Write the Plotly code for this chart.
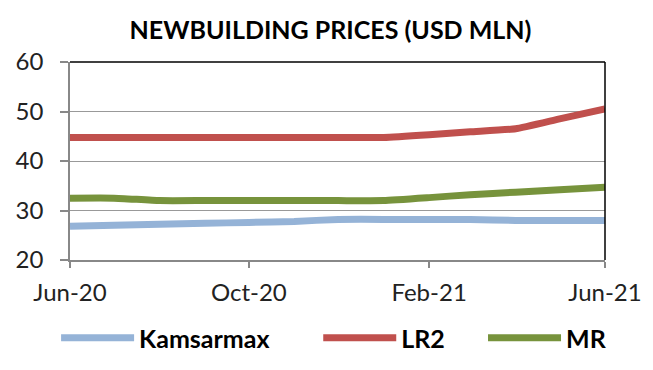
import plotly.graph_objects as go

months = ["2020-06-01", "2020-07-01", "2020-08-01", "2020-09-01", "2020-10-01", "2020-11-01",
          "2020-12-01", "2021-01-01", "2021-02-01", "2021-03-01", "2021-04-01", "2021-05-01",
          "2021-06-01"]
kamsarmax = [26.8, 27.0, 27.2, 27.4, 27.6, 27.8, 28.2, 28.2, 28.2, 28.2, 28.0, 28.0, 28.0]
lr2 = [44.75, 44.75, 44.75, 44.75, 44.75, 44.75, 44.75, 44.75, 45.3, 45.9, 46.5, 48.5, 50.5]
mr = [32.5, 32.5, 32.0, 32.0, 32.0, 32.0, 32.0, 32.0, 32.6, 33.2, 33.7, 34.2, 34.7]
tick_vals = ["2020-06-01", "2020-10-01", "2021-02-01", "2021-06-01"]
tick_text = ["Jun-20", "Oct-20", "Feb-21", "Jun-21"]

series = [("Kamsarmax", kamsarmax, "#95B3D7"), ("LR2", lr2, "#C0504D"), ("MR", mr, "#77933C")]
legend_ids = ["legend", "legend2", "legend3"]
legend_x = [-0.026, 0.464, 0.772]

font_family = "Lato, Open Sans, sans-serif"
fig = go.Figure()
for (name, vals, col), lid in zip(series, legend_ids):
    fig.add_trace(go.Scatter(x=months, y=vals, name=name, mode="lines", legend=lid,
                             line=dict(color=col, width=7, shape="spline", smoothing=0.4)))

legend_common = dict(orientation="h", xanchor="left", y=-0.394, yanchor="middle",
                     itemwidth=73, bgcolor="rgba(0,0,0,0)",
                     font=dict(size=25, color="black", family=font_family, weight="bold"))

fig.update_layout(
    width=645, height=362,
    margin=dict(l=62, r=48, t=54, b=110, autoexpand=False),
    paper_bgcolor="white", plot_bgcolor="white",
    title=dict(text="<b>NEWBUILDING PRICES (USD MLN)</b>", x=0.5, xanchor="center",
               y=1 - 22 / 362, yanchor="middle",
               font=dict(family=font_family, size=25, color="black")),
    font=dict(family=font_family, size=24, color="#222"),
    showlegend=True,
    legend=dict(x=legend_x[0], **legend_common),
    legend2=dict(x=legend_x[1], **legend_common),
    legend3=dict(x=legend_x[2], **legend_common),
)
fig.update_xaxes(type="date", range=[months[0], months[-1]], tickvals=tick_vals, ticktext=tick_text,
                 showgrid=False, showline=True, linecolor="#888", linewidth=1.5,
                 ticks="outside", ticklen=6, tickcolor="#888", tickwidth=1.5, zeroline=False,
                 ticklabelstandoff=4, automargin=False)
fig.update_yaxes(range=[20, 60], dtick=10, showgrid=True, gridcolor="#999", gridwidth=1.2,
                 showline=True, linecolor="#888", linewidth=1.5,
                 ticks="outside", ticklen=8, tickcolor="#888", tickwidth=1.5, zeroline=False,
                 ticklabelstandoff=12, automargin=False)
# black frame on top and right
fig.add_shape(type="line", xref="paper", yref="paper", x0=0, x1=1, y0=1, y1=1,
              line=dict(color="black", width=1.5))
fig.add_shape(type="line", xref="paper", yref="paper", x0=1, x1=1, y0=0, y1=1,
              line=dict(color="black", width=1.5))

fig.write_html("out.html")
